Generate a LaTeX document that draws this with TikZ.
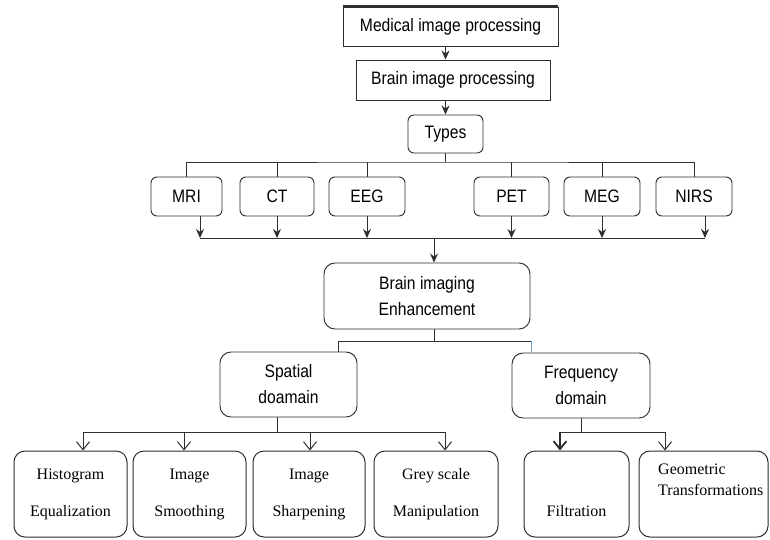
\documentclass[tikz,border=0pt]{standalone}
\usepackage{fontspec}
\setmainfont{Liberation Serif}
\newfontfamily\labelsans[FakeStretch=0.87]{Liberation Sans}
\usetikzlibrary{arrows.meta}
\definecolor{ink}{gray}{0.18}
\definecolor{tint}{RGB}{110,160,200}
\begin{document}
\begin{tikzpicture}[x=1pt,y=-1pt,
  box/.style={draw=ink, line width=0.95pt, inner sep=0pt, align=center,
    font=\labelsans\fontsize{18}{26}\selectfont},
  rbox/.style={box, rounded corners=6pt},
  bigbox/.style={box, rounded corners=11pt},
  leafbox/.style={draw=ink, line width=1pt, rounded corners=11pt, inner sep=0pt,
    align=center, minimum height=86pt, font=\fontsize{16}{19}\selectfont},
  leaftext/.style={inner sep=0pt, font=\fontsize{16}{21}\selectfont},
  link/.style={draw=ink, line width=1pt},
  tip/.style={link, -{Stealth[length=9pt,width=8pt]}},
  vee/.style={link, -{Straight Barb[length=8pt,width=13pt]}}
]
\fill[white] (0,0) rectangle (770,539);
\useasboundingbox (0,0) rectangle (770,539);

% top of the hierarchy
\node[box, minimum width=215pt, minimum height=39pt] (med) at (450.5,26.5) {Medical image processing};
\draw[ink, line width=2.2pt] (med.north west) -- (med.north east);
\node[box, minimum width=194pt, minimum height=40pt] (bip) at (453,80) {Brain image processing};
\node[rbox, minimum width=75pt, minimum height=38pt] (types) at (445.5,134) {Types};

% imaging modalities
\foreach \n/\x/\w/\t in {mri/186.5/71/MRI, ct/277/74/CT, eeg/367/76/EEG,
                         pet/511.5/75/PET, meg/602/76/MEG, nirs/694/76/NIRS}
  \node[rbox, minimum width=\w pt, minimum height=39pt] (\n) at (\x,196.5) {\t};

% enhancement and its two domains
\node[bigbox, minimum width=206pt, minimum height=66pt] (enh) at (427,296) {Brain imaging\\Enhancement};
\node[bigbox, minimum width=137pt, minimum height=65pt] (spat) at (288.5,384.5) {Spatial\\doamain};
\node[bigbox, minimum width=138pt, minimum height=65pt] (freq) at (581,385.5) {Frequency\\domain};

% techniques
\node[leafbox, minimum width=113pt] (hist) at (70.5,494) {Histogram\\[18pt]Equalization};
\node[leafbox, minimum width=113pt] (smooth) at (189.5,494) {Image\\[18pt]Smoothing};
\node[leafbox, minimum width=112pt] (sharp) at (309,494) {Image\\[18pt]Sharpening};
\node[leafbox, minimum width=124pt] (grey) at (436,494) {Grey scale\\[18pt]Manipulation};
\node[leafbox, minimum width=105pt] (filt) at (576.5,494) {};
\node[leaftext, anchor=base] (filtT) at (576.5,516) {Filtration};
\node[leafbox, minimum width=129pt] (geo) at (703.5,494) {};
\node[leaftext, anchor=north west, align=left] (geoT) at (658,464) {Geometric\\Transformations};

% connectors: processing chain
\draw[tip] (med.south -| types.north) -- (bip.north -| types.north);
\draw[tip] (bip.south -| types.north) -- (types.north);

% fan-out to the modalities
\coordinate (tb) at (445.5,162);
\draw[link] (types.south) -- (tb);
\draw[link] (mri.north) |- (tb) -| (nirs.north);
\foreach \n in {ct,eeg,pet,meg}
  \draw[link] (\n.north) -- (\n.north |- tb);

% fan-in to the enhancement stage
\coordinate (bb) at (434,238);
\coordinate (mriOut) at (200,238);
\coordinate (nirsOut) at (705,238);
\draw[link] (mriOut) -- (nirsOut);
\draw[tip] (mri.south -| mriOut) -- (mriOut);
\draw[tip] (nirs.south -| nirsOut) -- (nirsOut);
\foreach \n in {ct,eeg,pet,meg}
  \draw[tip] (\n.south) -- (\n.south |- bb);
\draw[tip] (bb) -- (enh.north -| bb);

% split into the two domains
\coordinate (eb) at (434,341);
\coordinate (ebL) at (338,341);
\coordinate (ebR) at (531,341);
\draw[link] (enh.south -| eb) -- (eb);
\draw[link] (spat.north -| ebL) -- (ebL) -- (ebR);
\draw[link, draw=tint] (ebR) -- (freq.north -| ebR);

% spatial domain techniques
\coordinate (sb) at (277,432);
\coordinate (sb1) at (83,432);
\coordinate (sb2) at (184,432);
\coordinate (sb3) at (310,432);
\coordinate (sb4) at (445,432);
\draw[link] (spat.south -| sb) -- (sb);
\draw[link] (sb1) -- (sb4);
\draw[vee] (sb1) -- (hist.north -| sb1);
\draw[vee] (sb2) -- (smooth.north -| sb2);
\draw[vee] (sb3) -- (sharp.north -| sb3);
\draw[vee] (sb4) -- (grey.north -| sb4);

% frequency domain techniques
\coordinate (fb) at (581,432);
\coordinate (fb1) at (560,432);
\coordinate (fb2) at (665,432);
\draw[link] (freq.south) -- (fb);
\draw[link] (fb1) -- (fb2);
\draw[vee, line width=1.8pt] (fb1) -- (filt.north -| fb1);
\draw[vee] (fb2) -- (geo.north -| fb2);
\end{tikzpicture}
\end{document}
